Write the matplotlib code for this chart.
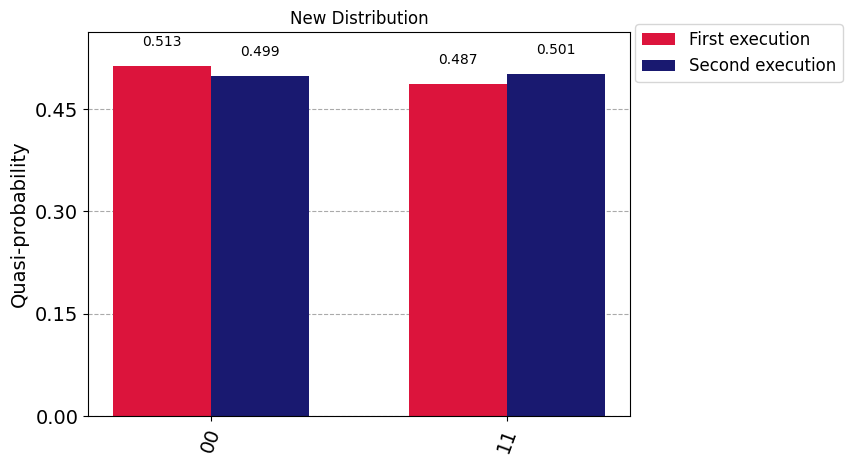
import numpy as np
import matplotlib.pyplot as plt

states = ['00', '11']
first = [0.513, 0.487]
second = [0.499, 0.501]
series = [('First execution', first, '#dc143c'), ('Second execution', second, '#191970')]

fig = plt.figure(figsize=(8.52, 4.66), dpi=100)
ax = fig.add_axes([88/852, 50/466, 542/852, 384/466])

x = np.arange(len(states))
w = 0.33
for i, (name, vals, col) in enumerate(series):
    pos = x + (i - 0.5) * w
    ax.bar(pos, vals, w, color=col, label=name, zorder=2)
    for p, v in zip(pos, vals):
        ax.text(p, v + 0.025, f'{v:.3f}', ha='center', va='bottom', fontsize=10)

ax.set_xticks(x)
ax.set_xticklabels(states, rotation=70, fontsize=14)
ax.set_yticks([0, 0.15, 0.30, 0.45])
ax.set_yticklabels(['0.00', '0.15', '0.30', '0.45'], fontsize=14)
ax.set_ylim(0, 0.563)
ax.set_xlim(-0.416, 1.416)
ax.grid(axis='y', linestyle='--', color='#aaaaaa', zorder=0)
ax.set_ylabel('Quasi-probability', fontsize=14)
ax.set_title('New Distribution', fontsize=12)
ax.legend(loc='upper left', bbox_to_anchor=(1.01, 1.02), fontsize=12, borderaxespad=0)

fig.savefig('out.png', dpi=100)
